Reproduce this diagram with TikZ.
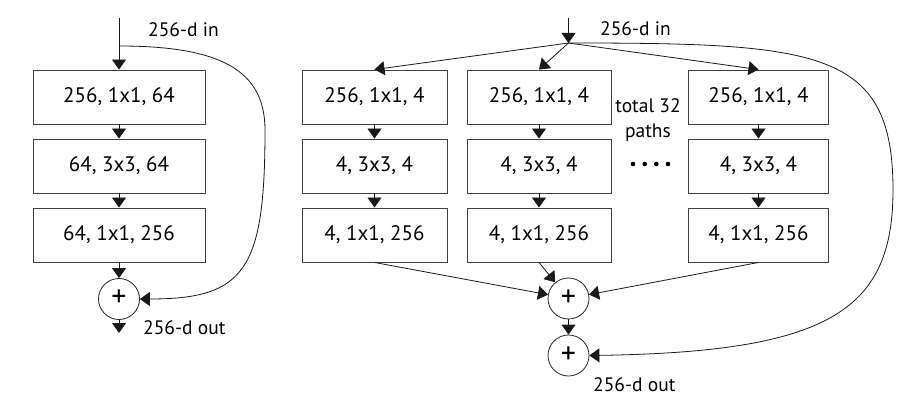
\documentclass[tikz,border=0pt]{standalone}
\usepackage{fontspec}
\setmainfont{PT Sans}
\usetikzlibrary{arrows.meta}
\begin{document}
\begin{tikzpicture}[x=1pt,y=-1pt,
  box/.style={draw=black!75, line width=0.9pt, minimum height=54pt, inner sep=0pt, font=\fontsize{21}{24}\selectfont},
  plus/.style={circle, draw=black!85, line width=0.8pt, minimum size=41pt, inner sep=0pt, font=\fontsize{30}{30}\selectfont},
  arr/.style={-{Triangle[width=14pt,length=10pt]}, line width=0.8pt, draw=black!90},
  lbl/.style={font=\fontsize{19.5}{20}\selectfont, inner sep=0pt, anchor=west},
  dot/.style={circle, fill=black, inner sep=0pt, minimum size=4.6pt}]
\useasboundingbox (0,0) rectangle (913,412);
% ---------- left block ----------
\node[box, minimum width=172pt] (l1) at (119,97) {256, 1x1, 64};
\node[box, minimum width=172pt] (l2) at (119,166) {64, 3x3, 64};
\node[box, minimum width=172pt] (l3) at (119,235) {64, 1x1, 256};
\node[plus] (lp) at (119,299) {\raisebox{1pt}{+}};
\coordinate (lin) at (119,18);
\coordinate (lsplit) at (119,46);
\coordinate (lout) at (119,333);
\coordinate (lmid) at (265,130);
\draw[arr] (lin) -- (l1);
\draw[arr] (l1) -- (l2);
\draw[arr] (l2) -- (l3);
\draw[arr] (l3) -- (lp);
\draw[arr] (lp) -- (lout);
\draw[arr] (lsplit) .. controls (220,46) and (265,70) .. (lmid) .. controls (265,270) and (245,299) .. (lp.east);
\node[lbl] (linlbl) at (148,30) {256-d in};
\node[lbl] (loutlbl) at (143,328) {256-d out};
% ---------- right block ----------
\node[box, minimum width=145pt] (a1) at (374.5,97) {256, 1x1, 4};
\node[box, minimum width=145pt] (a2) at (374.5,166) {4, 3x3, 4};
\node[box, minimum width=145pt] (a3) at (374.5,235) {4, 1x1, 256};
\node[box, minimum width=144pt] (b1) at (539,97) {256, 1x1, 4};
\node[box, minimum width=144pt] (b2) at (539,166) {4, 3x3, 4};
\node[box, minimum width=144pt] (b3) at (539,235) {4, 1x1, 256};
\node[box, minimum width=140pt] (c1) at (758.5,97) {256, 1x1, 4};
\node[box, minimum width=140pt] (c2) at (758.5,166) {4, 3x3, 4};
\node[box, minimum width=140pt] (c3) at (758.5,235) {4, 1x1, 256};
\node[plus] (p1) at (568.5,298.5) {\raisebox{1pt}{+}};
\node[plus] (p2) at (568.5,355.5) {\raisebox{1pt}{+}};
\coordinate (rin) at (568.5,18);
\coordinate (rj) at (568.5,43);
\coordinate (rmid) at (893,190);
\draw[arr] (rin) -- (rj);
\draw[arr] (rj) -- (a1.north);
\draw[arr] (rj) -- (b1.north);
\draw[arr] (rj) -- (c1.north);
\foreach \c in {a,b,c}{
  \draw[arr] (\c1) -- (\c2);
  \draw[arr] (\c2) -- (\c3);
  \draw[arr] (\c3.south) -- (p1);
}
\draw[arr] (p1) -- (p2);
\draw[arr] (rj) .. controls (820,43) and (893,50) .. (rmid) .. controls (893,310) and (830,352) .. (p2.east);
\node[lbl] (rinlbl) at (600,29) {256-d in};
\node[lbl] (routlbl) at (593,385) {256-d out};
\node[font=\fontsize{19.5}{25}\selectfont, align=center, inner sep=0pt] (tot) at (648,120.5) {total 32\\paths};
\foreach \i/\x in {1/633,2/644.7,3/656.3,4/668}{
  \node[dot] (d\i) at (\x,164) {};
}
\end{tikzpicture}
\end{document}
